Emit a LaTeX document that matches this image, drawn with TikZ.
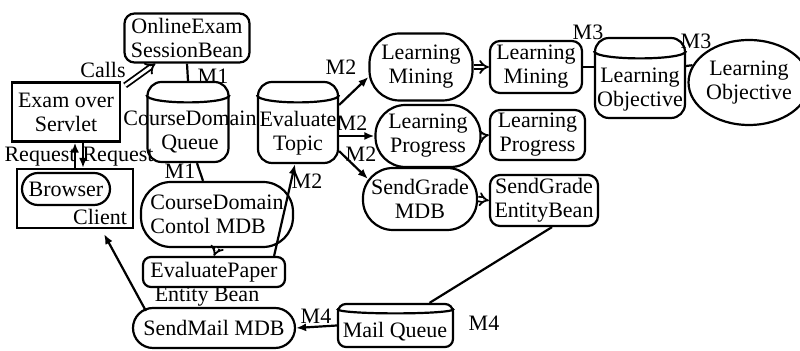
\documentclass[tikz,border=0pt]{standalone}
\usepackage{fontspec}
\setmainfont{Liberation Serif}
\usetikzlibrary{arrows.meta,shapes.geometric}

% front arc of a tank: node, drop, sag
\newcommand{\tanktop}[3]{%
  \draw[line width=1.1pt] ([yshift=-#2]#1.north west)
    .. controls +(0pt,-#3) and +(0pt,-#3) .. ([yshift=-#2]#1.north east);}

\begin{document}
\begin{tikzpicture}[x=0.5pt,y=-0.5pt,
  font=\fontsize{11}{12}\selectfont,
  every node/.style={inner sep=0pt,align=center},
  box/.style={draw,line width=1.1pt,align=center},
  rbox/.style={box,rounded corners=5pt},
  stadium/.style={box,rounded corners=15pt},
  tank/.style={box,rounded corners=7pt},
  link/.style={line width=1.1pt},
  arr/.style={link,-{Latex[length=5pt,width=4pt]}},
  hollow/.style={double,double distance=1.4pt,line width=0.9pt,-{Implies}}]
  \useasboundingbox (0,0) rectangle (800,351);

  % client side
  \node[rbox,minimum width=62.5pt,minimum height=24.5pt] (seb) at (187,38) {OnlineExam\\SessionBean};
  \node[box,minimum width=54pt,minimum height=29.5pt] (servlet) at (66,112) {Exam over\\Servlet};
  \node[box,minimum width=58pt,minimum height=29.5pt] (client) at (75,198.5) {};
  \node[box,rounded corners=8pt,minimum width=44pt,minimum height=16pt] (browser) at (66,189) {Browser};
  \node (clientlbl) at (100,217) {Client};

  % queues and beans
  \node[tank,minimum width=40.5pt,minimum height=40pt] (queue) at (188,122) {};
  \tanktop{queue}{7pt}{5pt}
  \node (queuetxt) at (190,132) {CourseDomain\\Queue};
  \node[tank,minimum width=40pt,minimum height=40.5pt] (topic) at (298,122.5) {};
  \tanktop{topic}{7pt}{5pt}
  \node (topictxt) at (298,133) {Evaluate\\Topic};
  \node[stadium,minimum width=76pt,minimum height=32.5pt,align=left] (mdb) at (217,214.5) {CourseDomain\\Contol MDB};
  \node[box,rounded corners=4pt,minimum width=71pt,minimum height=15pt] (paper) at (214,272) {EvaluatePaper};
  \node (paperlbl) at (207,297) {Entity Bean};
  \node[stadium,rounded corners=10pt,minimum width=81pt,minimum height=20pt] (sendmail) at (214,328) {SendMail MDB};
  \node[tank,rounded corners=4pt,minimum width=57.5pt,minimum height=21.5pt] (mailq) at (395.5,325.5) {};
  \tanktop{mailq}{3pt}{3pt}
  \node (mailqtxt) at (395,332) {Mail Queue};

  % learning side
  \node[stadium,minimum width=51.5pt,minimum height=33.5pt] (mine) at (421,67) {Learning\\Mining};
  \node[stadium,minimum width=52.5pt,minimum height=31pt] (prog) at (428,136) {Learning\\Progress};
  \node[stadium,minimum width=57pt,minimum height=31pt] (sgmdb) at (420,199) {SendGrade\\MDB};
  \node[rbox,minimum width=46pt,minimum height=26pt] (mineb) at (536,67) {Learning\\Mining};
  \node[rbox,minimum width=47.5pt,minimum height=25pt] (progb) at (537.5,135) {Learning\\Progress};
  \node[rbox,minimum width=54pt,minimum height=25.5pt] (sgeb) at (544,200.5) {SendGrade\\EntityBean};
  \node[tank,minimum width=45pt,minimum height=40pt] (obj) at (640,78) {};
  \tanktop{obj}{7pt}{5pt}
  \node (objtxt) at (640,90) {Learning\\Objective};
  \node[box,ellipse,minimum width=49pt,minimum height=42.5pt] (objc) at (749,82.5) {Learning\\Objective};

  % labels
  \node (calls) at (103,70) {Calls};
  \node (reql) at (40,157) {Request};
  \node (reqr) at (118,157) {Request};
  \node (ma) at (213,76) {M1};
  \node (mb) at (180,171) {M1};
  \node (mc) at (341,67) {M2};
  \node (md) at (352,123) {M2};
  \node (me) at (361,154) {M2};
  \node (mf) at (307,181) {M2};
  \node (mg) at (588,32) {M3};
  \node (mh) at (696,41) {M3};
  \node (mi) at (316,316) {M4};
  \node (mj) at (484,323) {M4};

  % connectors
  \draw[hollow] ([xshift=2pt,yshift=-2pt]servlet.north east) -- ([xshift=16pt]seb.south west);
  \draw[link] (seb.south) -- (queue.north);
  \draw[arr] (client.north) -- ([xshift=4.5pt]servlet.south);
  \draw[arr] ([xshift=8.5pt]servlet.south) -- ([xshift=4pt]client.north);
  \draw[link] ([xshift=4.5pt]queue.south) -- ([xshift=-7pt]mdb.north);
  \draw[hollow] (mdb.south) -- (paper.north);
  \draw[arr] ([xshift=-6pt]paper.north east) -- ([xshift=-1.5pt]topic.south);
  \draw[arr] ([yshift=8.75pt]topic.east) -- ([yshift=-5pt]mine.west);
  \draw[arr] (topic.east |- prog.west) -- (prog.west);
  \draw[arr] ([yshift=6.5pt]topic.south east) -- ([xshift=3pt,yshift=-6pt]sgmdb.north west);
  \draw[hollow] (mine.east) -- (mineb.west);
  \draw[hollow] (prog.east) -- (progb.west);
  \draw[hollow] (sgmdb.east) -- (sgeb.west);
  \draw[link] (mineb.east) -- (mineb.east -| obj.west);
  \draw[link] ([yshift=6pt]obj.east) -- (objc.163);
  \draw[link] ([xshift=4pt]sgeb.south) -- ([xshift=17pt]mailq.north);
  \draw[arr] (mailq.west) -- (sendmail.east);
  \draw[arr] ([xshift=7pt,yshift=-2pt]sendmail.north west) -- ([xshift=-15pt,yshift=-2.5pt]client.south east);
\end{tikzpicture}
\end{document}
